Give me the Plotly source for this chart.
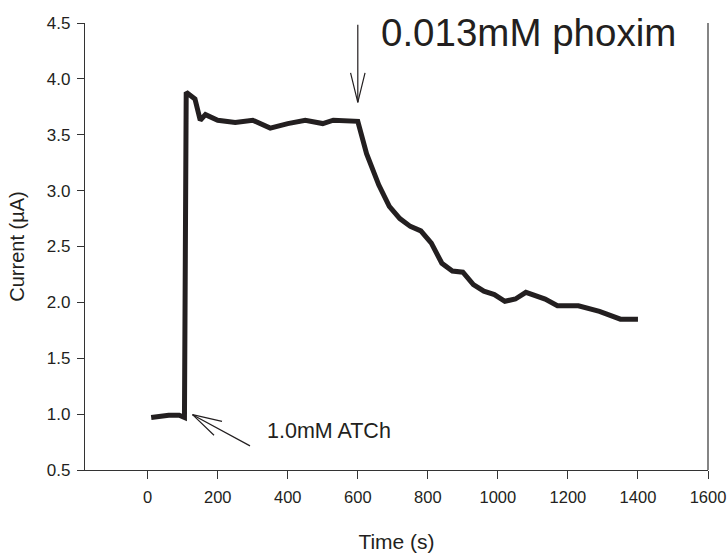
import plotly.graph_objects as go

time_s = [10, 30, 60, 90, 105, 110, 135, 150, 165, 200, 250, 300, 350, 400, 450, 500, 530, 600,
          625, 660, 690, 720, 750, 780, 810, 840, 870, 900, 930, 960, 990, 1020, 1050, 1080,
          1135, 1170, 1230, 1290, 1350, 1400]
current_uA = [0.97, 0.98, 0.99, 0.99, 0.97, 3.88, 3.82, 3.63, 3.68, 3.63, 3.61, 3.63, 3.56, 3.60,
              3.63, 3.60, 3.63, 3.62, 3.33, 3.05, 2.86, 2.75, 2.68, 2.64, 2.53, 2.35, 2.28, 2.27,
              2.16, 2.10, 2.07, 2.01, 2.03, 2.09, 2.03, 1.97, 1.97, 1.92, 1.85, 1.85]

x_ticks = [0, 200, 400, 600, 800, 1000, 1200, 1400, 1600]
y_ticks = [0.5, 1.0, 1.5, 2.0, 2.5, 3.0, 3.5, 4.0, 4.5]

FONT = "Liberation Sans, Arial, Helvetica, sans-serif"
INK = "#231f20"
AX = "#333333"

fig = go.Figure()
fig.add_trace(go.Scatter(x=time_s, y=current_uA, mode="lines",
                         line=dict(color=INK, width=5), showlegend=False, hoverinfo="skip"))

annots = []
def arrow(x, y, ax, ay):
    annots.append(dict(x=x, y=y, xref="x", yref="y", ax=ax, ay=ay, axref="pixel", ayref="pixel",
                       text="", showarrow=True, arrowhead=0, arrowwidth=1.2, arrowcolor=INK))

# phoxim arrow (vertical, open V head)
arrow(600, 3.79, 0, -79)
arrow(600, 3.79, -7.6, -31)
arrow(600, 3.79, 7.6, -31)
# ATCh arrow (diagonal, open V head)
arrow(128, 0.995, 59, 32)
arrow(128, 0.995, 31, 7)
arrow(128, 0.995, 23, 22)

annots.append(dict(x=335, y=0.845, xref="x", yref="y", text="1.0mM ATCh", showarrow=False,
                   xanchor="left", yanchor="middle", font=dict(size=21.5, color=INK, family=FONT)))
annots.append(dict(x=1, y=1, xref="paper", yref="paper", text="0.013mM phoxim", showarrow=False,
                   xanchor="right", yanchor="middle", xshift=-30, yshift=-9.5,
                   font=dict(size=38.5, color=INK, family=FONT)))

fig.update_layout(
    width=728, height=553,
    margin=dict(l=85, r=20, t=23, b=83, autoexpand=False),
    paper_bgcolor="white", plot_bgcolor="white",
    font=dict(family=FONT, color=INK, size=17),
    annotations=annots,
    shapes=[dict(type="line", xref="paper", yref="paper", x0=1, x1=1, y0=0, y1=1,
                 line=dict(color=AX, width=1.2))],
    xaxis=dict(range=[-179, 1600], tickvals=x_ticks, ticks="outside", ticklen=8, tickcolor=AX,
               showline=True, linecolor=AX, linewidth=1.2, showgrid=False, zeroline=False,
               automargin=False, ticklabelstandoff=4,
               title=dict(text="Time (s)", font=dict(size=21), standoff=30),
               tickfont=dict(size=16.5)),
    yaxis=dict(range=[0.5, 4.5], tickvals=y_ticks, tickformat=".1f", ticks="outside", ticklen=7,
               tickcolor=AX, showline=True, linecolor=AX, linewidth=1.2,
               showgrid=False, zeroline=False, automargin=False, ticklabelstandoff=3,
               title=dict(text="Current (µA)", font=dict(size=20), standoff=16),
               tickfont=dict(size=17)),
)

fig.write_html("out.html", config={"displayModeBar": False},
               post_script="document.body.style.margin='0';document.body.style.overflow='hidden';")
